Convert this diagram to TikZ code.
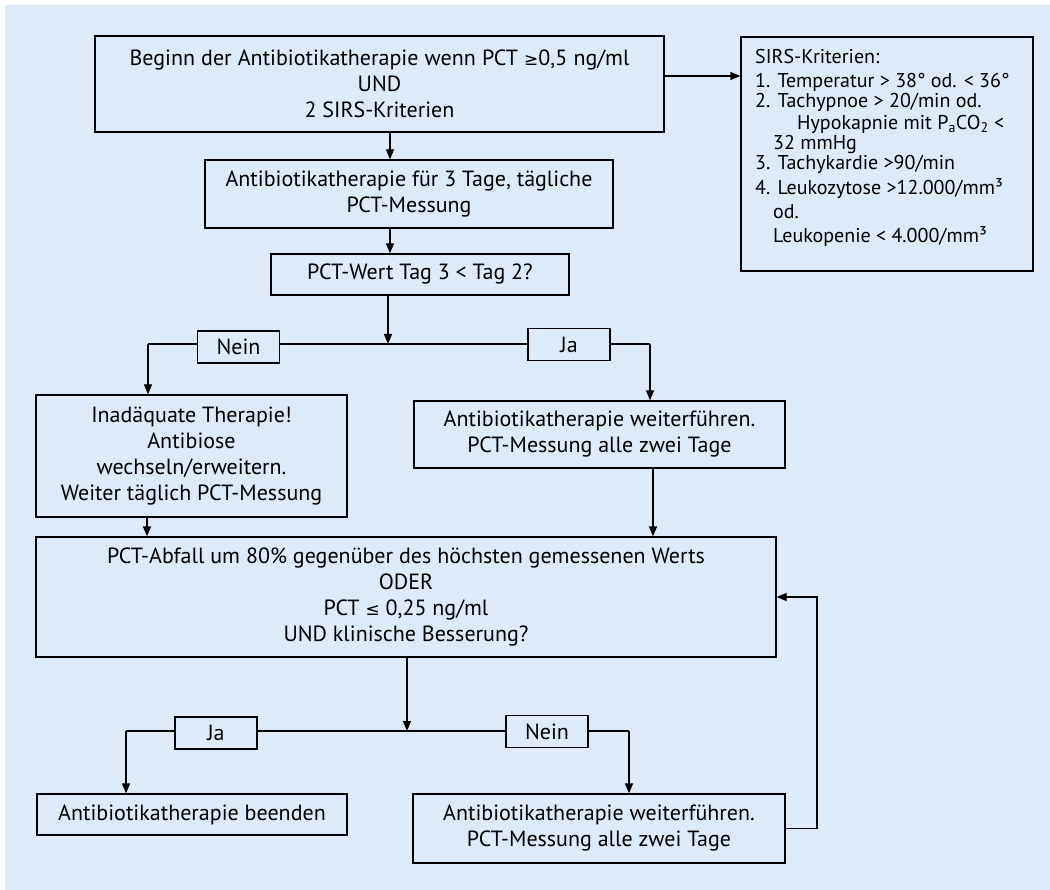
\documentclass[tikz,border=0pt]{standalone}
\usepackage{fontspec}
\setmainfont{PT Sans}
\newfontfamily\symf{DejaVu Sans}
\newcommand\geqs{{\symf\fontsize{17}{17}\selectfont ≥}}
\newcommand\leqs{{\symf\fontsize{17}{17}\selectfont ≤}}
\usetikzlibrary{arrows.meta}
\definecolor{bg}{RGB}{221,234,247}
\begin{document}
\begin{tikzpicture}[x=1pt,y=-1pt,
  box/.style={draw=black, line width=1.3pt, fill=bg, inner sep=0pt, align=center,
    font=\fontsize{22}{26}\selectfont},
  lab/.style={box, minimum width=82pt, minimum height=32pt},
  ln/.style={line width=1.3pt},
  arr/.style={line width=1.3pt, -{Triangle[length=10pt,width=8pt]}}]
\useasboundingbox (0,0) rectangle (1050,890);
\fill[bg] (5,5) rectangle (1050,890);
% boxes
\node[box, minimum width=569pt, minimum height=96pt] (b1) at (379.5,84)
  {\makebox[500pt][s]{Beginn der Antibiotikatherapie wenn PCT \geqs0,5 ng/ml}\\UND\\2 SIRS-Kriterien};
\node[box, minimum width=292pt, minimum height=234pt] (sirs) at (887,154) {};
\node[anchor=north west, inner sep=0pt, align=left, font=\fontsize{20}{20}\selectfont] (sirstext) at (755,49)
  {SIRS-Kriterien:\\[4pt]
   1. Temperatur > 38° od. < 36°\\
   2. Tachypnoe > 20/min od.\\[2pt]
   \hspace*{42pt}Hypokapnie mit P\textsubscript{a}CO\textsubscript{2} <\\
   \hspace*{18pt}32 mmHg\\
   3. Tachykardie >90/min\\[4pt]
   4. Leukozytose >12.000/mm³\\[4pt]
   \hspace*{18pt}od.\\[4pt]
   \hspace*{18pt}Leukopenie < 4.000/mm³};
\node[box, minimum width=408pt, minimum height=68pt] (b2) at (409,194)
  {Antibiotikatherapie für 3 Tage, tägliche\\PCT-Messung};
\node[box, minimum width=298pt, minimum height=41pt] (b3) at (420,274.5)
  {PCT-Wert Tag 3 < Tag 2?};
\node[lab] (nein1) at (238.5,347) {Nein};
\node[lab] (ja1) at (569,344.5) {Ja};
\node[box, minimum width=311pt, minimum height=122pt] (bl) at (191.5,456)
  {Inadäquate Therapie!\\Antibiose\\wechseln/erweitern.\\Weiter täglich PCT-Messung};
\node[box, minimum width=371pt, minimum height=67pt] (br) at (599.5,434.5)
  {Antibiotikatherapie weiterführen.\\PCT-Messung alle zwei Tage};
\node[box, minimum width=740pt, minimum height=120pt] (big) at (406,597)
  {\makebox[598pt][s]{PCT-Abfall um 80\% gegenüber des höchsten gemessenen Werts}\\ODER\\PCT \leqs\ 0,25 ng/ml\\UND klinische Besserung?};
\node[lab] (ja2) at (216,733) {Ja};
\node[lab] (nein2) at (547,731.5) {Nein};
\node[box, minimum width=310pt, minimum height=41pt] (end) at (192,814.5)
  {Antibiotikatherapie beenden};
\node[box, minimum width=372pt, minimum height=69pt] (br2) at (599,828.5)
  {Antibiotikatherapie weiterführen.\\PCT-Messung alle zwei Tage};
% helper coordinates
\coordinate (ya) at (0,76);
\coordinate (xa) at (390,0);
\coordinate (j1) at (388,344);
\coordinate (l1) at (148,344);
\coordinate (r1) at (650,344);
\coordinate (xl) at (147,0);
\coordinate (xr) at (653,0);
\coordinate (j2) at (407,731);
\coordinate (l2) at (126,731);
\coordinate (r2) at (629,731);
\coordinate (fb) at (817,0);
% connectors
\draw[arr] (b1.east |- ya) -- (sirs.west |- ya);
\draw[arr] (b1.south -| xa) -- (b2.north -| xa);
\draw[arr] (b2.south -| xa) -- (b3.north -| xa);
\draw[arr] (b3.south -| j1) -- (j1);
\draw[ln] (l1) -- (nein1.west |- l1);
\draw[ln] (nein1.east |- l1) -- (ja1.west |- l1);
\draw[ln] (ja1.east |- r1) -- (r1);
\draw[arr] (l1) -- (bl.north -| l1);
\draw[arr] (r1) -- (br.north -| r1);
\draw[arr] (bl.south -| xl) -- (big.north -| xl);
\draw[arr] (br.south -| xr) -- (big.north -| xr);
\draw[arr] (big.south -| j2) -- (j2);
\draw[ln] (l2) -- (ja2.west |- l2);
\draw[ln] (ja2.east |- l2) -- (nein2.west |- l2);
\draw[ln] (nein2.east |- l2) -- (r2);
\draw[arr] (l2) -- (end.north -| l2);
\draw[arr] (r2) -- (br2.north -| r2);
\draw[arr] (br2.east) -- (br2.east -| fb) -- (fb |- big.east) -- (big.east);
\end{tikzpicture}
\end{document}
